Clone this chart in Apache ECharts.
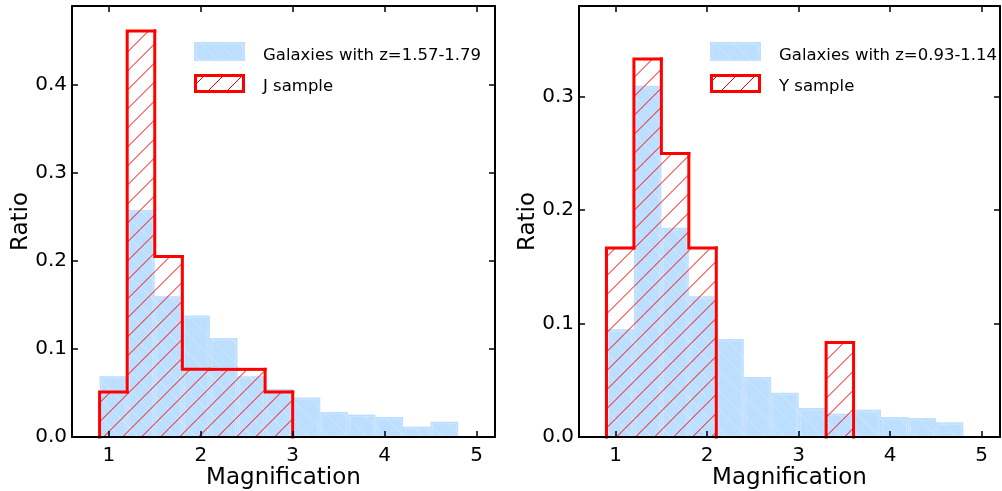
<!DOCTYPE html>
<html><head><meta charset="utf-8">
<script src="https://cdn.jsdelivr.net/npm/echarts@6/dist/echarts.min.js"></script>
<style>html,body{margin:0;padding:0;background:#fff}#c{width:1002px;height:491px}</style>
</head><body><div id="c"></div>
<script>
// ---- data ----
const binEdges = [0.9, 1.2, 1.5, 1.8, 2.1, 2.4, 2.7, 3.0, 3.3, 3.6, 3.9, 4.2, 4.5, 4.8];
const galaxiesJ = [0.069, 0.258, 0.160, 0.138, 0.1125, 0.069, 0.0545, 0.045, 0.0285, 0.0255, 0.0227, 0.0118, 0.0174];
const jSample   = [0.0513, 0.4615, 0.2051, 0.0769, 0.0769, 0.0769, 0.0513, 0, 0, 0, 0, 0, 0];
const galaxiesY = [0.0949, 0.3096, 0.1845, 0.124, 0.0865, 0.0529, 0.0391, 0.0256, 0.0206, 0.0241, 0.0176, 0.0167, 0.013];
const ySample   = [0.1667, 0.3333, 0.25, 0.1667, 0, 0, 0, 0, 0.0833, 0, 0, 0, 0];
const xTicks = [1, 2, 3, 4, 5];
const yTicksLeft = [0, 0.1, 0.2, 0.3, 0.4];
const yTicksRight = [0, 0.1, 0.2, 0.3];
const namesLeft = ['Galaxies with z=1.57-1.79', 'J sample'];
const namesRight = ['Galaxies with z=0.93-1.14', 'Y sample'];
const xLabel = 'Magnification';
const yLabel = 'Ratio';

// ---- styles ----
const FONT = 'DejaVu Sans';
const BLUE = 'rgb(188,222,255)';
const BLUE_HATCH = 'rgba(255,255,255,0.32)';
const RED = '#ff0000';
const HATCH = 19;

// hatch line segments clipped to a pixel rectangle
function hatchSegs(L, T, R, B, dir, s, phase) {
  const segs = [];
  if (dir === '/') {            // x + y = c
    const c0 = Math.ceil((L + T - phase) / s) * s + phase;
    for (let c = c0; c <= R + B; c += s) {
      const xa = Math.max(L, c - B), xb = Math.min(R, c - T);
      if (xb <= xa) continue;
      segs.push([xa, c - xa, xb, c - xb]);
    }
  } else {                      // x - y = c
    const c0 = Math.ceil((L - B - phase) / s) * s + phase;
    for (let c = c0; c <= R - T; c += s) {
      const xa = Math.max(L, T + c), xb = Math.min(R, B + c);
      if (xb <= xa) continue;
      segs.push([xa, xa - c, xb, xb - c]);
    }
  }
  return segs;
}
function segsToPath(segs) {
  return segs.map(s => 'M' + s[0] + ' ' + s[1] + 'L' + s[2] + ' ' + s[3]).join('');
}

function blueBlock(L, T, R, B) {
  return [
    { type: 'rect', shape: { x: L, y: T, width: R - L, height: B - T }, style: { fill: BLUE } },
    { type: 'path', shape: { pathData: segsToPath(hatchSegs(L, T, R, B, '\\', HATCH, 6)) }, style: { stroke: BLUE_HATCH, lineWidth: 1, fill: null } },
    { type: 'rect', shape: { x: L + 2, y: T + 2, width: R - L - 4, height: B - T - 3 }, style: { fill: null, stroke: 'rgba(255,255,255,0.25)', lineWidth: 1 } }
  ];
}
function redHatch(L, T, R, B, phase) {
  return { type: 'path', shape: { pathData: segsToPath(hatchSegs(L, T, R, B, '/', HATCH, phase)) }, style: { stroke: RED, lineWidth: 1, fill: null } };
}

function histData(values) {
  const out = [];
  for (let i = 0; i < values.length; i++) {
    const vp = i > 0 ? values[i - 1] : 0;
    out.push([binEdges[i], binEdges[i + 1], values[i], vp, i === values.length - 1 ? 1 : 0]);
  }
  return out;
}

function histRender(kind) {
  return function (params, api) {
    const x0 = api.value(0), x1 = api.value(1), v = api.value(2), vp = api.value(3), last = api.value(4);
    let children = [];
    if (v > 0) {
      const a = api.coord([x0, v]), b = api.coord([x1, 0]);
      if (kind === 'blue') children = children.concat(blueBlock(a[0], a[1], b[0], b[1]));
      else children.push(redHatch(a[0], a[1], b[0], b[1], 8.5));
    }
    if (kind === 'red') {
      const pts = [];
      if (vp !== v) { pts.push(api.coord([x0, vp])); pts.push(api.coord([x0, v])); }
      else if (v > 0) pts.push(api.coord([x0, v]));
      if (v > 0) pts.push(api.coord([x1, v]));
      if (last && v > 0) pts.push(api.coord([x1, 0]));
      if (pts.length >= 2) {
        children.push({ type: 'polyline', shape: { points: pts }, style: { stroke: RED, lineWidth: 3, fill: null, lineCap: 'square', lineJoin: 'miter' } });
      }
    }
    return { type: 'group', children: children };
  };
}

// legend swatches, placed left of each legend's texts
const swatchLefts = [194, 710];
function swatchRender(params, api) {
  const x = api.value(0), y = 42, w = 51, h = 19, ry = y + 32;
  let ch = blueBlock(x, y, x + w, y + h);
  ch.push(redHatch(x, ry, x + w, ry + h, 14));
  ch.push({ type: 'rect', shape: { x: x + 1.5, y: ry + 1.5, width: w - 3, height: h - 3 }, style: { fill: null, stroke: RED, lineWidth: 3 } });
  return { type: 'group', children: ch };
}

function xAxes(gi) {
  const base = {
    type: 'value', gridIndex: gi, min: 0.6, max: 5.2, z: 10,
    axisLine: { show: true, onZero: false, lineStyle: { color: '#000', width: 2 } },
    axisTick: { show: true, inside: true, length: 6, customValues: xTicks, lineStyle: { color: '#000', width: 1.5 } },
    splitLine: { show: false }
  };
  return [
    Object.assign({}, base, {
      position: 'bottom',
      axisLabel: { show: true, customValues: xTicks, margin: 9, fontSize: 20, color: '#000', fontFamily: FONT },
      name: xLabel, nameLocation: 'middle', nameGap: 30, nameMoveOverlap: false,
      nameTextStyle: { fontSize: 23, color: '#000', fontFamily: FONT }
    }),
    Object.assign({}, base, { position: 'top', axisLabel: { show: false } })
  ];
}
function yAxes(gi, max, ticks) {
  const base = {
    type: 'value', gridIndex: gi, min: 0, max: max, z: 10,
    axisLine: { show: true, onZero: false, lineStyle: { color: '#000', width: 2 } },
    axisTick: { show: true, inside: true, length: 6, customValues: ticks, lineStyle: { color: '#000', width: 1.5 } },
    splitLine: { show: false }
  };
  return [
    Object.assign({}, base, {
      position: 'left',
      axisLabel: { show: true, customValues: ticks, margin: 5, fontSize: 20, color: '#000', fontFamily: FONT, formatter: v => v.toFixed(1) },
      name: yLabel, nameLocation: 'middle', nameGap: 39, nameMoveOverlap: false,
      nameTextStyle: { fontSize: 23, color: '#000', fontFamily: FONT }
    }),
    Object.assign({}, base, { position: 'right', axisLabel: { show: false } })
  ];
}

function legendCfg(left, names) {
  return {
    orient: 'vertical', left: left, top: 46, padding: 0, itemWidth: 51, itemHeight: 19, itemGap: 13,
    selectedMode: false,
    icon: 'none',
    itemStyle: { opacity: 0, color: 'rgba(0,0,0,0)', borderWidth: 0 },
    lineStyle: { opacity: 0 },
    data: [names[0], names[1]],
    textStyle: { fontFamily: FONT, fontSize: 16.5, color: '#000', padding: [0, 0, 0, 13] }
  };
}

const chart = echarts.init(document.getElementById('c'), null, { renderer: 'canvas' });
chart.setOption({
  animation: false,
  backgroundColor: '#fff',
  grid: [
    { left: 72, right: 507, top: 6, bottom: 54, outerBoundsMode: 'none' },
    { left: 579, right: 2, top: 6, bottom: 54, outerBoundsMode: 'none' }
  ],
  xAxis: xAxes(0).concat(xAxes(1)),
  yAxis: yAxes(0, 0.49, yTicksLeft).concat(yAxes(1, 0.38, yTicksRight)),
  legend: [legendCfg(194, namesLeft), legendCfg(710, namesRight)],
  series: [
    { name: namesLeft[0], type: 'custom', xAxisIndex: 0, yAxisIndex: 0, renderItem: histRender('blue'), data: histData(galaxiesJ), encode: { x: [0, 1], y: 2 }, z: 2 },
    { name: namesLeft[1], type: 'custom', xAxisIndex: 0, yAxisIndex: 0, renderItem: histRender('red'), data: histData(jSample), encode: { x: [0, 1], y: 2 }, z: 3 },
    { name: namesRight[0], type: 'custom', xAxisIndex: 2, yAxisIndex: 2, renderItem: histRender('blue'), data: histData(galaxiesY), encode: { x: [0, 1], y: 2 }, z: 2 },
    { name: namesRight[1], type: 'custom', xAxisIndex: 2, yAxisIndex: 2, renderItem: histRender('red'), data: histData(ySample), encode: { x: [0, 1], y: 2 }, z: 3 },
    { name: 'legend swatches', type: 'custom', coordinateSystem: 'none', renderItem: swatchRender, data: swatchLefts.map(v => [v]), silent: true, z: 4 }
  ]
});
</script>
</body></html>
